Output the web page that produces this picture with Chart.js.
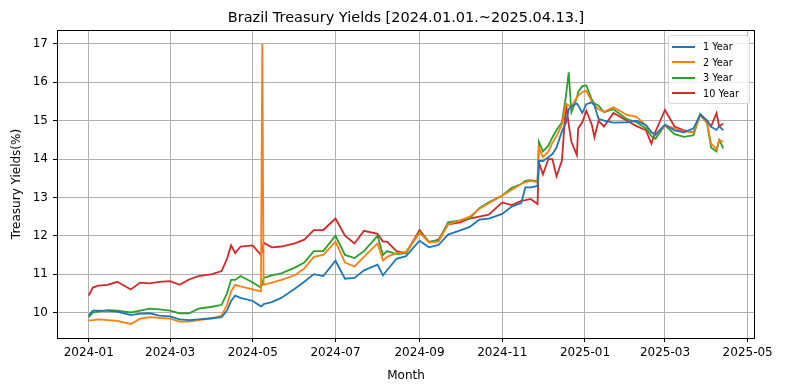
<!DOCTYPE html>
<html>
<head>
<meta charset="utf-8">
<script src="https://cdn.jsdelivr.net/npm/chart.js@4.4.1/dist/chart.umd.min.js"></script>
<style>
  html, body { margin: 0; padding: 0; background: #fff; }
  #wrap { position: relative; width: 785px; height: 391px; }
  #legend {
    position: absolute; left: 668px; top: 35px; width: 80px;
    padding: 3px 0 2px 0; border: 1px solid #d6d6d6; border-radius: 3px;
    background: rgba(255,255,255,0.8);
    font-family: "DejaVu Sans", sans-serif; font-size: 9.7px; color: #000;
  }
  .row { display: flex; align-items: center; height: 15.5px; }
  .swatch { width: 23px; height: 2px; margin-left: 3px; margin-right: 8px; }
</style>
</head>
<body>
<div id="wrap">
  <canvas id="chart" width="785" height="391"></canvas>
  <div id="legend"></div>
</div>
<script>
// dates of the readings
const dates = [
  "2024-01-01","2024-01-04","2024-01-08","2024-01-15","2024-01-22",
  "2024-02-01","2024-02-08","2024-02-15","2024-02-22",
  "2024-03-01","2024-03-08","2024-03-15","2024-03-22",
  "2024-04-01","2024-04-08","2024-04-12","2024-04-15","2024-04-18","2024-04-22",
  "2024-05-01","2024-05-07","2024-05-08","2024-05-09","2024-05-15","2024-05-22",
  "2024-06-01","2024-06-08","2024-06-15","2024-06-22",
  "2024-07-01","2024-07-08","2024-07-15","2024-07-22",
  "2024-08-01","2024-08-05","2024-08-08","2024-08-15","2024-08-22",
  "2024-09-01","2024-09-08","2024-09-15","2024-09-22",
  "2024-10-01","2024-10-08","2024-10-15","2024-10-22",
  "2024-11-01","2024-11-08","2024-11-15","2024-11-18","2024-11-22","2024-11-27","2024-11-28",
  "2024-12-01","2024-12-05","2024-12-08","2024-12-11","2024-12-15","2024-12-18","2024-12-20",
  "2024-12-22","2024-12-26","2024-12-27","2024-12-30",
  "2025-01-02","2025-01-06","2025-01-08","2025-01-11","2025-01-15","2025-01-22",
  "2025-02-01","2025-02-08","2025-02-15","2025-02-19","2025-02-22",
  "2025-03-01","2025-03-08","2025-03-15","2025-03-22","2025-03-27",
  "2025-04-01","2025-04-04","2025-04-08","2025-04-10","2025-04-13"
];

const yield1Y = [
  9.92,10.05,10.05,10.04,10.02, 9.93,9.97,9.98,9.92, 9.90,9.82,9.80,9.82,
  9.85,9.88,10.05,10.30,10.44,10.38, 10.30,10.16,10.18,10.22,10.27,10.38,
  10.62,10.80,11.00,10.95, 11.35,10.88,10.90,11.10, 11.25,10.97,11.10,11.40,11.47,
  11.87,11.70,11.76,12.03, 12.14,12.23,12.42,12.45,
  12.57,12.76,12.85,13.26,13.26,13.30,13.95,
  13.95,14.05,14.13,14.30,14.72,14.95,15.30, 15.38,15.45,15.40,15.20,
  15.43,15.48,15.40,15.05,15.00,14.95, 14.96,15.00,14.88,14.70,14.64,
  14.90,14.75,14.70,14.80,15.15, 15.00,14.84,14.76,14.86,14.75
];
const yield2Y = [
  9.79,9.80,9.82,9.80,9.78, 9.70,9.84,9.88,9.86, 9.84,9.76,9.76,9.80,
  9.85,9.92,10.20,10.55,10.72,10.68, 10.60,10.55,17.00,10.72,10.78,10.85,
  10.97,11.15,11.45,11.50, 11.85,11.30,11.20,11.45, 11.80,11.35,11.45,11.55,11.58,
  12.08,11.83,11.85,12.30, 12.40,12.50,12.70,12.85,
  13.05,13.20,13.35,13.40,13.43,13.40,14.30,
  14.05,14.20,14.43,14.60,14.90,15.45,15.40, 15.35,15.62,15.65,15.75,
  15.78,15.50,15.40,15.30,15.23,15.35, 15.15,15.10,14.88,14.70,14.62,
  14.88,14.80,14.72,14.70,15.15, 14.94,14.40,14.26,14.50,14.45
];
const yield3Y = [
  9.88,10.00,10.02,10.06,10.05, 10.00,10.05,10.10,10.08, 10.05,9.98,9.98,10.10,
  10.15,10.20,10.50,10.85,10.85,10.95, 10.78,10.65,10.75,10.90,10.97,11.02,
  11.17,11.30,11.60,11.60, 12.00,11.50,11.42,11.60, 12.00,11.50,11.60,11.52,11.55,
  12.10,11.85,11.87,12.35, 12.40,12.45,12.72,12.87,
  13.05,13.25,13.35,13.43,13.45,13.42,14.45,
  14.20,14.35,14.57,14.75,14.96,15.65,16.26, 15.22,15.60,15.75,15.90,
  15.92,15.55,15.45,15.40,15.22,15.30, 15.04,14.96,14.80,14.60,14.53,
  14.88,14.65,14.58,14.62,15.17, 14.94,14.30,14.20,14.50,14.28
];
const yield10Y = [
  10.44,10.65,10.70,10.72,10.80, 10.60,10.78,10.76,10.80, 10.82,10.72,10.86,10.95,
  11.00,11.08,11.40,11.75,11.55,11.72, 11.75,11.50,11.60,11.82,11.70,11.72,
  11.80,11.90,12.15,12.15, 12.45,12.00,11.80,12.13, 12.05,11.85,11.85,11.60,11.55,
  12.15,11.83,11.90,12.30, 12.35,12.45,12.50,12.55,
  12.87,12.80,12.91,12.93,12.96,12.83,13.92,
  13.60,14.00,14.00,13.55,13.96,15.45,14.90, 14.45,14.10,14.80,14.96,
  15.26,14.90,14.57,15.00,14.85,15.20, 15.00,14.86,14.75,14.40,14.72,
  15.28,14.85,14.75,14.70,15.17, 15.00,14.85,15.20,14.85,14.93
];

const seriesNames = ["1 Year", "2 Year", "3 Year", "10 Year"];
const seriesColors = ["#1f77b4", "#ff7f0e", "#2ca02c", "#d62728"];
const tickLabels = ["2024-01","2024-03","2024-05","2024-07","2024-09","2024-11","2025-01","2025-03","2025-05"];
const yTicks = [10, 11, 12, 13, 14, 15, 16, 17];

// days since 2024-01-01
const t0 = Date.UTC(2024, 0, 1);
function dayOf(s) {
  const p = s.split("-").map(Number);
  return (Date.UTC(p[0], p[1] - 1, p[2] || 1) - t0) / 86400000;
}
const days = dates.map(dayOf);
const tickDays = tickLabels.map(dayOf);

const allSeries = [yield1Y, yield2Y, yield3Y, yield10Y];

// matplotlib-like 5% margins
const xLo = days[0], xHi = days[days.length - 1];
const allVals = allSeries.flat();
const yLo = Math.min(...allVals), yHi = Math.max(...allVals);
const xPad = (xHi - xLo) * 0.05, yPad = (yHi - yLo) * 0.05;

const FONT = "DejaVu Sans";

// rahmen um die plotfläche
const frame = {
  id: "frame",
  afterDatasetsDraw(chart) {
    const a = chart.chartArea, ctx = chart.ctx;
    ctx.save();
    ctx.strokeStyle = "#000";
    ctx.lineWidth = 1;
    ctx.strokeRect(Math.round(a.left) + 0.5, Math.round(a.top) + 0.5,
                   Math.round(a.right - a.left) - 1, Math.round(a.bottom - a.top));
    ctx.restore();
  }
};

new Chart(document.getElementById("chart"), {
  type: "line",
  data: {
    datasets: allSeries.map((vals, i) => ({
      label: seriesNames[i],
      data: vals.map((v, j) => ({ x: days[j], y: v })),
      borderColor: seriesColors[i],
      backgroundColor: seriesColors[i],
      borderWidth: 1.8,
      pointRadius: 0,
      tension: 0
    }))
  },
  options: {
    responsive: false,
    animation: false,
    devicePixelRatio: 1,
    layout: { padding: { left: 0, right: 30, top: 0, bottom: 0 } },
    plugins: {
      legend: { display: false },
      tooltip: { enabled: false },
      title: {
        display: true,
        fullSize: false,
        text: "Brazil Treasury Yields [2024.01.01.~2025.04.13.]",
        color: "#000",
        font: { family: FONT, size: 14.5, weight: "normal" },
        padding: { top: 10, bottom: 2.6 }
      }
    },
    scales: {
      x: {
        type: "linear",
        min: xLo - xPad,
        max: xHi + xPad,
        afterBuildTicks: s => { s.ticks = tickDays.map(v => ({ value: v })); },
        afterFit: s => { s.height = 53; },
        ticks: {
          color: "#000",
          font: { family: FONT, size: 12 },
          padding: 4,
          maxRotation: 0,
          autoSkip: false,
          callback: v => tickLabels[tickDays.indexOf(v)]
        },
        grid: { color: "#b0b0b0", lineWidth: 1, tickColor: "#000", tickLength: 4 },
        border: { display: false },
        title: {
          display: true, text: "Month", color: "#000",
          font: { family: FONT, size: 12 },
          padding: { top: 0, bottom: 8 }
        }
      },
      y: {
        min: yLo - yPad,
        max: yHi + yPad,
        afterBuildTicks: s => { s.ticks = yTicks.map(v => ({ value: v })); },
        afterFit: s => { s.width = 57; },
        ticks: {
          color: "#000",
          font: { family: FONT, size: 12 },
          padding: 5,
          callback: v => String(v)
        },
        grid: { color: "#b0b0b0", lineWidth: 1, tickColor: "#000", tickLength: 4 },
        border: { display: false },
        title: {
          display: true, text: "Treasury Yields(%)", color: "#000",
          font: { family: FONT, size: 12 },
          padding: { top: 10, bottom: 0 }
        }
      }
    }
  },
  plugins: [frame]
});

// legende innerhalb der plotfläche
const legend = document.getElementById("legend");
seriesNames.forEach((name, i) => {
  const row = document.createElement("div");
  row.className = "row";
  const sw = document.createElement("span");
  sw.className = "swatch";
  sw.style.background = seriesColors[i];
  const txt = document.createElement("span");
  txt.textContent = name;
  row.appendChild(sw);
  row.appendChild(txt);
  legend.appendChild(row);
});
</script>
</body>
</html>
